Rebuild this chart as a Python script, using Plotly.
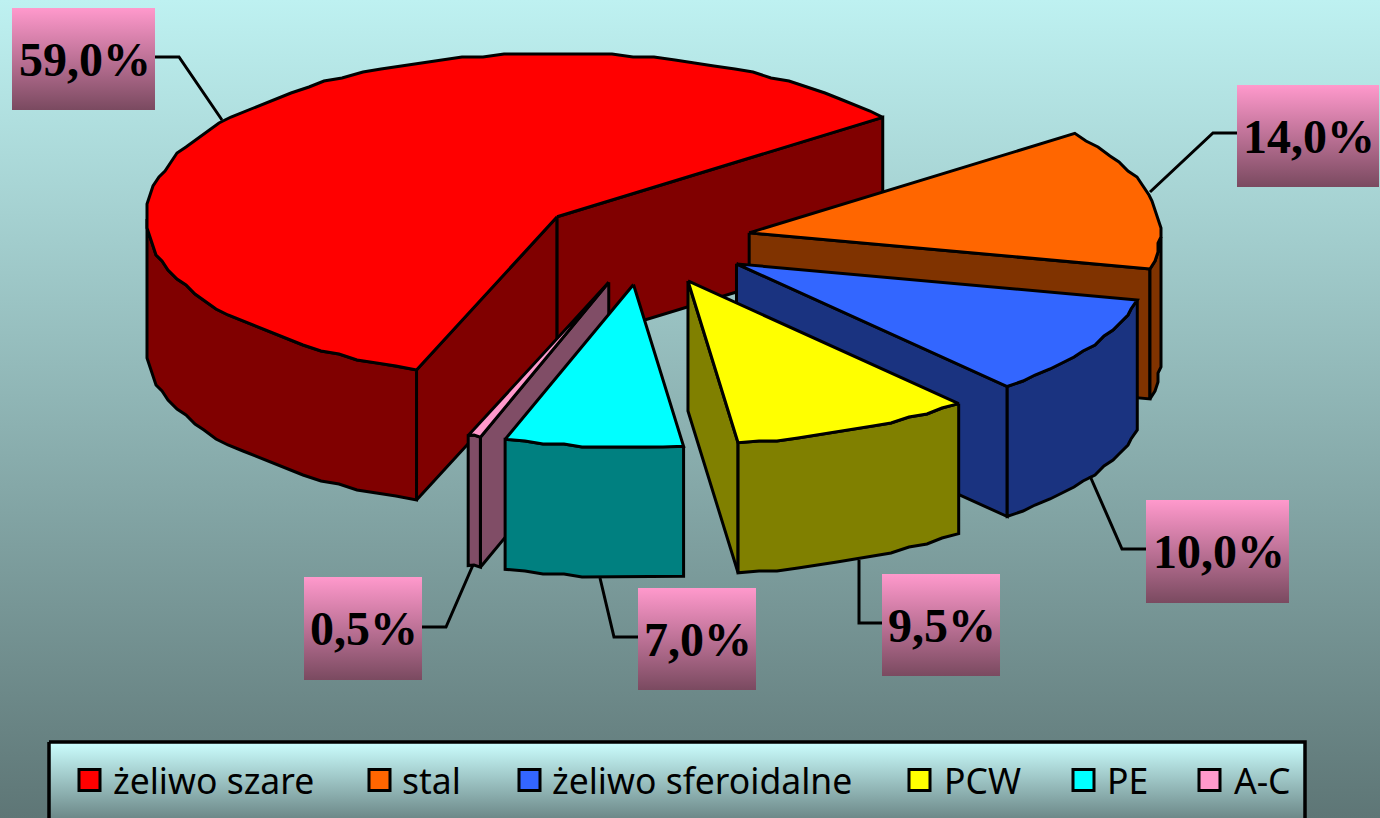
import numpy as np
import plotly.graph_objects as go

# ---- data ----
categories = ["żeliwo szare", "stal", "żeliwo sferoidalne", "PCW", "PE", "A-C"]
values = [59.0, 14.0, 10.0, 9.5, 7.0, 0.5]
value_labels = ["59,0%", "14,0%", "10,0%", "9,5%", "7,0%", "0,5%"]

# ---- styles ----
top_colors = ["#FF0000", "#FF6600", "#3366FF", "#FFFF00", "#00FFFF", "#FF99CC"]
side_colors = ["#800000", "#803300", "#1A3380", "#808000", "#008080", "#804D66"]
W, H = 1380, 818
CX, CY, RX, RY, DEPTH, EXPLODE = 644.0, 242.0, 411.0, 163.0, 130.0, 0.262
FIRST_ANGLE = 200.0
LW = 3.0
RIM_GRID = 3.0  # the source's rim is slightly stepped, as if drawn on a coarse device grid
RIM_STEP = 3.0
label_boxes = [(12, 8, 155, 110), (1237, 85, 1379, 187), (1146, 500, 1289, 603),
               (882, 574, 1000, 676), (638, 588, 756, 690), (304, 577, 422, 680)]
leaders = [[(155, 57), (179, 57), (222, 120)],
           [(1237, 133), (1213, 133), (1150, 192)],
           [(1146, 549), (1122, 549), (1090, 476)],
           [(882, 623), (859, 623), (859, 560)],
           [(638, 637), (614, 637), (600, 578)],
           [(422, 627), (446, 627), (473, 565)]]
legend_swatch_x = [89.5, 379.5, 529.5, 919.5, 1083.5, 1209.5]
legend_text_x = [111, 400, 550, 942, 1105, 1232]
legend_y = 780
draw_order = [0, 1, 2, 3, 5, 4]

fig = go.Figure()


def poly(xs, ys, fill=None, line=True, gradient=None, line_width=LW):
    kw = dict(x=list(xs), y=list(ys), mode="lines", hoverinfo="skip", showlegend=False)
    if line:
        kw["line"] = dict(color="black", width=line_width)
    else:
        kw["line"] = dict(width=0)
    if fill or gradient:
        kw["fill"] = "toself"
    if fill:
        kw["fillcolor"] = fill
    if gradient:
        kw["fillgradient"] = dict(type="vertical", colorscale=gradient)
    fig.add_trace(go.Scatter(**kw))


def rect(x0, y0, x1, y1, **kw):
    poly([x0, x1, x1, x0, x0], [y0, y0, y1, y1, y0], **kw)


# background
rect(0, 0, W, H, line=False, gradient=[[0, "#5E7676"], [1, "#BEF1F1"]])

# slices derived from the values
shares = np.array(values) / sum(values) * 360.0
starts = FIRST_ANGLE + np.concatenate([[0], np.cumsum(shares)[:-1]])


def rim(theta_deg):
    t = np.radians(theta_deg)
    return RX * np.sin(t), -RY * np.cos(t)


for i in draw_order:
    a0, a1 = starts[i], starts[i] + shares[i]
    ex, ey = rim(a0 + shares[i] / 2)
    ax, ay = CX + EXPLODE * ex, CY + EXPLODE * ey
    th = np.linspace(a0, a1, max(3, int(shares[i] / RIM_STEP) + 2))
    rx, ry = rim(th)
    rx, ry = ax + rx, ay + ry
    rx[1:-1] = np.round(rx[1:-1] / RIM_GRID) * RIM_GRID
    ry[1:-1] = np.round(ry[1:-1] / RIM_GRID) * RIM_GRID
    # cut faces
    if np.sin(np.radians(a0)) < 0:
        poly([ax, rx[0], rx[0], ax, ax], [ay, ry[0], ry[0] + DEPTH, ay + DEPTH, ay], fill=side_colors[i])
    if np.sin(np.radians(a1)) > 0:
        poly([ax, rx[-1], rx[-1], ax, ax], [ay, ry[-1], ry[-1] + DEPTH, ay + DEPTH, ay], fill=side_colors[i])
    # outer wall: the front half of the rim only
    mask = np.cos(np.radians(th)) < 0
    if mask.any():
        fx, fy = rx[mask], ry[mask]
        poly(np.r_[fx, fx[::-1], fx[0]], np.r_[fy, fy[::-1] + DEPTH, fy[0]], fill=side_colors[i])
    # top
    poly(np.r_[ax, rx, ax], np.r_[ay, ry, ay], fill=top_colors[i])

annotations = []
# data labels
grad = [[0, "#7A4A60"], [1, "#FF99CC"]]
for lead in leaders:
    poly([p[0] for p in lead], [p[1] for p in lead])
for box, text in zip(label_boxes, value_labels):
    rect(*box, line=False, gradient=grad)
    annotations.append(dict(x=(box[0] + box[2]) / 2 + 1, y=(box[1] + box[3]) / 2, text=f"<b>{text}</b>",
                            showarrow=False, xanchor="center", yanchor="middle",
                            font=dict(family="Liberation Serif", size=48, color="black")))

# legend
rect(49, 742, 1305, 830, gradient=[[0, "#5E7676"], [1, "#CCFFFF"]], line_width=3.5)
fig.add_trace(go.Scatter(x=legend_swatch_x, y=[legend_y] * 6, mode="markers", hoverinfo="skip", showlegend=False,
                         marker=dict(symbol="square", size=21, color=top_colors,
                                     line=dict(color="black", width=3))))
for x, name in zip(legend_text_x, categories):
    annotations.append(dict(x=x, y=legend_y, text=name, showarrow=False, xanchor="left", yanchor="middle",
                            font=dict(family="Noto Sans", size=35.5, color="black")))

fig.update_layout(
    width=W, height=H, margin=dict(l=0, r=0, t=0, b=0), showlegend=False,
    paper_bgcolor="#8aa5a5", plot_bgcolor="rgba(0,0,0,0)",
    xaxis=dict(range=[0, W], visible=False, fixedrange=True),
    yaxis=dict(range=[H, 0], visible=False, fixedrange=True),
    annotations=annotations,
)
fig.write_html("out.html", config=dict(displayModeBar=False),
               post_script="document.body.style.margin='0';document.body.style.overflow='hidden';")
